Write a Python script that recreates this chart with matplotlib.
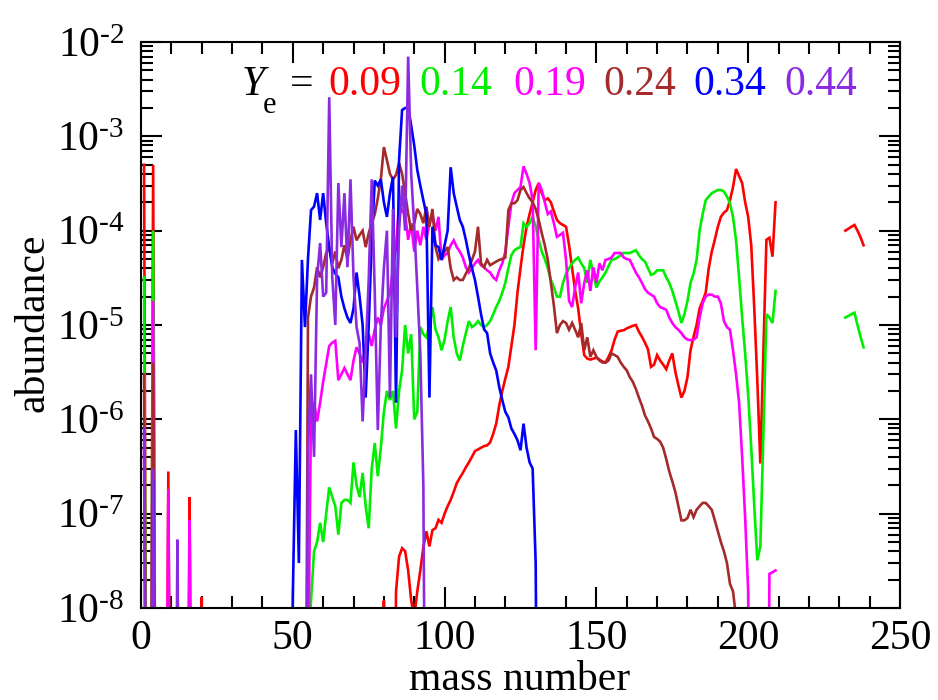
import numpy as np
import matplotlib
matplotlib.use("Agg")
import matplotlib.pyplot as plt
from matplotlib.ticker import MultipleLocator, FixedLocator, NullFormatter, FuncFormatter

plt.rcParams['font.family'] = ['Liberation Serif', 'DejaVu Serif']
plt.rcParams['mathtext.fontset'] = 'custom'
plt.rcParams['mathtext.rm'] = 'Liberation Serif'
plt.rcParams['mathtext.it'] = 'Liberation Serif:italic'
plt.rcParams['mathtext.bf'] = 'Liberation Serif:bold'

OFF = 1e-12  # value below the plotted range (drawn off-axis)

# ---------------- data: (first mass number, abundances for consecutive A) ----------------
ye_labels = ["0.09", "0.14", "0.19", "0.24", "0.34", "0.44"]
colors = ["#ff0000", "#00ee00", "#ff00ff", "#a52a2a", "#0000ff", "#8a2be2"]
y_decades = [-8, -7, -6, -5, -4, -3, -2]

red_segments = [
    (1, [5e-4, OFF, OFF, 5e-4, OFF]),
    (8, [OFF, 2.8e-7, OFF]),
    (15, [OFF, 1.5e-7, OFF]),
    (19, [OFF, 1.3e-8, OFF]),
    (79, [OFF, 1.2e-8, OFF, OFF, OFF, 1.5e-8, 3.5e-8, 4.3e-8, 4e-8, 2.5e-8,
          1.2e-8, 8e-9, 1.5e-8, 2.5e-8, 4.4e-8, 6.5e-8, 4.5e-8, 6.7e-8, 7e-8, 8.6e-8,
          8e-8, 1e-7, 1.2e-7, 1.4e-7, 1.7e-7, 2.1e-7, 2.4e-7, 2.7e-7, 3.1e-7, 3.5e-7,
          4e-7, 4.6e-7, 4.8e-7, 5e-7, 5.2e-7, 5.3e-7, 5.7e-7, 7e-7, 9e-7, 1.4e-6,
          2e-6, 2.7e-6, 3.6e-6, 6e-6, 1e-5, 2.2e-5, 4e-5, 7e-5, 1.1e-4, 1.5e-4,
          2e-4, 2.7e-4, 3.2e-4, 2.5e-4, 2.1e-4, 2.2e-4, 2e-4, 1.6e-4, 1.3e-4, 1.2e-4,
          1.15e-4, 1.1e-4, 7e-5, 4e-5, 2.3e-5, 1.5e-5, 8e-6, 4.8e-6, 4.4e-6, 4.3e-6,
          4.4e-6, 4.5e-6, 4.3e-6, 4.1e-6, 4e-6, 4.6e-6, 5.4e-6, 7e-6, 8.5e-6, 8.7e-6,
          8.8e-6, 9.2e-6, 9.5e-6, 9.8e-6, 1e-5, 8.5e-6, 7.5e-6, 6.5e-6, 5.5e-6, 3.6e-6,
          3.8e-6, 4.8e-6, 4.2e-6, 3.8e-6, 3.4e-6, 4.2e-6, 5e-6, 3.2e-6, 2.3e-6, 1.7e-6,
          2e-6, 2.8e-6, 5.4e-6, 7.5e-6, 1e-5, 1.5e-5, 1.8e-5, 2.2e-5, 4e-5, 6e-5,
          8e-5, 1.1e-4, 1.4e-4, 1.55e-4, 1.65e-4, 2.1e-4, 2.9e-4, 4.5e-4, 3.8e-4, 3.2e-4,
          2e-4, 1.4e-4, 7e-5, 1.5e-5, 2.6e-6, 3.4e-7, 5e-6, 8e-5, 8.4e-5, 5.3e-5,
          2e-4]),
    (232, [1.0e-4, 1.05e-4, 1.1e-4, 1.15e-4, 1.0e-4, 8.5e-5, 7e-5]),
]

green_segments = [
    (1, [3.2e-5, OFF, OFF, 1e-4, OFF]),
    (54, [OFF, 3e-9, 1.2e-8, 4e-8, 5e-8, 8e-8, 5e-8, 1e-7, 1.9e-7, 1.5e-7,
          1.2e-7, 6e-8, 1.3e-7, 1.4e-7, 1.4e-7, 1.3e-7, 3.5e-7, 2e-7, 1.5e-7, 2.7e-7,
          1.2e-7, 7e-8, 3e-7, 5.6e-7, 2.5e-7, 5e-7, 1.2e-6, 2e-6, 1.6e-6, 2e-6,
          8e-7, 2e-6, 3.3e-6, 1e-5, 5e-6, 8e-6, 1e-6, 1.2e-6, 9.5e-6, 8e-6,
          7.4e-6, 1e-5, 1.55e-5, 9e-6, 7.4e-6, 5.4e-6, 7e-6, 1.1e-5, 1.55e-5, 7.4e-6,
          5e-6, 4.2e-6, 6e-6, 8.2e-6, 1.1e-5, 9.5e-6, 1e-5, 1.1e-5, 1e-5, 9.5e-6,
          1e-5, 1.1e-5, 1.3e-5, 1.55e-5, 1.8e-5, 2.2e-5, 2.8e-5, 4e-5, 5.5e-5, 6.2e-5,
          6.5e-5, 6.7e-5, 1.2e-4, 1.1e-4, 1.2e-4, 1.4e-4, 1.1e-4, 8e-5, 6e-5, 5e-5,
          4e-5, 3e-5, 2.5e-5, 2e-5, 2e-5, 2.8e-5, 3.5e-5, 4e-5, 4.5e-5, 4.9e-5,
          5.2e-5, 4.5e-5, 4e-5, 2.8e-5, 4.9e-5, 3.5e-5, 2.5e-5, 2.9e-5, 3.2e-5, 3.6e-5,
          4.2e-5, 4.9e-5, 5e-5, 5.2e-5, 5.5e-5, 5.8e-5, 5.8e-5, 5.8e-5, 6e-5, 6.2e-5,
          5.5e-5, 5e-5, 4.7e-5, 4e-5, 3.4e-5, 3.5e-5, 3.8e-5, 3.8e-5, 3.8e-5, 3.2e-5,
          2.8e-5, 2.3e-5, 1.8e-5, 1.4e-5, 1.05e-5, 1.3e-5, 1.8e-5, 2.8e-5, 3.5e-5, 4.9e-5,
          1e-4, 1.5e-4, 2.1e-4, 2.3e-4, 2.5e-4, 2.6e-4, 2.7e-4, 2.7e-4, 2.6e-4, 2.3e-4,
          1.95e-4, 1.4e-4, 7.9e-5, 3.2e-5, 1.2e-5, 5e-6, 1.8e-6, 5e-7, 1.2e-7, 3.2e-8,
          4.5e-8, 7e-7, 1.3e-5, 1.2e-5, 1.05e-5, 2.3e-5]),
    (232, [1.2e-5, 1.25e-5, 1.3e-5, 1.35e-5, 1e-5, 7.5e-6, 5.8e-6]),
]

magenta_segments = [
    (1, [5e-7, OFF, OFF, 1.8e-5, OFF]),
    (8, [OFF, 1.8e-7, OFF]),
    (15, [OFF, 8.5e-8, OFF]),
    (54, [OFF, 1e-9, 1.3e-6, 1.5e-6, 9.5e-7, 1.5e-6, 2.5e-6, 3.9e-6, 6e-6, 6.5e-6,
          6.8e-6, 2.6e-6, 3e-6, 3.5e-6, 3e-6, 2.6e-6, 4.2e-6, 5.8e-6, 5e-6, 4e-6,
          6e-6, 8e-6, 6e-6, 9e-6, 1.2e-5, 1e-5, 1.5e-5, 1.8e-5, 2.2e-5, 4e-5,
          6.7e-5, 2e-4, 1.6e-4, 1.5e-4, 8e-5, 1.2e-4, 6e-5, 1e-4, 7e-5, 1.1e-4,
          8e-5, 1.2e-4, 1.5e-4, 1e-4, 1.4e-4, 4.9e-5, 5.5e-5, 5.8e-5, 7e-5, 7.9e-5,
          6.7e-5, 6e-5, 5.2e-5, 4.1e-5, 3.6e-5, 4e-5, 4.5e-5, 4.9e-5, 4.3e-5, 4.1e-5,
          3.8e-5, 3.6e-5, 3.2e-5, 3e-5, 3.8e-5, 4.5e-5, 6e-5, 1.1e-4, 1.95e-4, 2.5e-4,
          2.7e-4, 2.9e-4, 4.8e-4, 4e-4, 3.2e-4, 2.1e-4, 5.4e-6, 3.2e-4, 2.7e-4, 2e-4,
          1.5e-4, 1.6e-4, 1.2e-4, 8.6e-5, 9e-5, 9.5e-5, 4.9e-5, 1.8e-5, 1.55e-5, 2.5e-5,
          3.6e-5, 1.7e-5, 2.8e-5, 3.8e-5, 2.3e-5, 4.1e-5, 2.8e-5, 4.5e-5, 3.8e-5, 4.9e-5,
          5e-5, 5.2e-5, 5.8e-5, 5.8e-5, 5.8e-5, 5.2e-5, 5e-5, 4.9e-5, 4.2e-5, 3.6e-5,
          3.2e-5, 2.8e-5, 2.4e-5, 2.2e-5, 2.1e-5, 2e-5, 1.7e-5, 1.55e-5, 1.5e-5, 1.45e-5,
          1.2e-5, 1.05e-5, 9.5e-6, 8.9e-6, 8.2e-6, 7.4e-6, 7e-6, 6.9e-6, 7e-6, 7.4e-6,
          1.2e-5, 1.7e-5, 2e-5, 2.1e-5, 2.1e-5, 2e-5, 2e-5, 1.7e-5, 1.1e-5, 9.5e-6,
          8.9e-6, 5.4e-6, 3e-6, 1.5e-6, 4e-7, 9e-8, 1.5e-8, OFF, OFF, OFF,
          OFF, OFF, OFF, 2.3e-8, 2.4e-8, 2.5e-8]),
]

brown_segments = [
    (1, [3e-6, OFF, OFF, 4e-6, OFF]),
    (54, [OFF, 1.2e-5, 2e-5, 2.5e-5, 4.1e-5, 3.2e-5, 4.1e-5, 5.8e-5, 6.7e-5, 4.5e-5,
          6e-5, 4e-5, 4.9e-5, 7e-5, 5e-5, 8e-5, 1.1e-4, 7.9e-5, 9e-5, 1e-4,
          6.7e-5, 9.4e-5, 1.2e-4, 1.5e-4, 2.2e-4, 3.5e-4, 7.7e-4, 5.6e-4, 4e-4, 3.5e-4,
          3.9e-4, 5.2e-4, 4e-4, 2.5e-4, 1.5e-4, 1e-4, 1.2e-4, 1.7e-4, 1.5e-4, 1.2e-4,
          1.8e-4, 1.1e-4, 1.7e-4, 6.7e-5, 5e-5, 5.5e-5, 6e-5, 6.7e-5, 4e-5, 3e-5,
          3.2e-5, 3e-5, 3e-5, 3.5e-5, 4e-5, 4.9e-5, 6e-5, 1.1e-4, 4.5e-5, 4.1e-5,
          4.9e-5, 4.3e-5, 4.5e-5, 4.7e-5, 4.9e-5, 5e-5, 5.2e-5, 1.65e-4, 1.95e-4, 1.95e-4,
          2.1e-4, 2.7e-4, 2.9e-4, 2.5e-4, 2.2e-4, 2e-4, 1.7e-4, 1.3e-4, 9.4e-5, 7e-5,
          4.9e-5, 2.8e-5, 1.6e-5, 8.2e-6, 1e-5, 1.1e-5, 1.05e-5, 8.9e-6, 1.05e-5, 8.9e-6,
          7.4e-6, 1.05e-5, 5.4e-6, 7.4e-6, 4.6e-6, 5.4e-6, 4.6e-6, 4.2e-6, 4e-6, 4e-6,
          4.2e-6, 5e-6, 4.8e-6, 4.6e-6, 4e-6, 3.6e-6, 3.3e-6, 2.8e-6, 2.5e-6, 2.1e-6,
          1.7e-6, 1.4e-6, 1.1e-6, 9.5e-7, 8e-7, 6.5e-7, 6.2e-7, 5.8e-7, 5e-7, 3.8e-7,
          2.8e-7, 2.2e-7, 1.7e-7, 1.2e-7, 8.5e-8, 8.5e-8, 9e-8, 1.1e-7, 9.2e-8, 1.1e-7,
          1.2e-7, 1.3e-7, 1.3e-7, 1.2e-7, 1.1e-7, 8.5e-8, 6.5e-8, 5e-8, 4e-8, 3e-8,
          1.8e-8, 1.5e-8, 8e-9, OFF]),
]

blue_segments = [
    (3, [OFF, 2.3e-7, OFF]),
    (49, [OFF, 1.3e-8, 7.7e-7, 3e-8, 4.9e-5, 9.5e-6, 5e-5, 1.65e-4, 1.8e-4, 2.5e-4,
          1.3e-4, 2.5e-4, 1.2e-4, 6.7e-5, 4.1e-5, 3.5e-5, 3.2e-5, 2e-5, 1.5e-5, 1.2e-5,
          1.05e-5, 1.5e-5, 3.6e-5, 2e-5, 1e-5, 1.7e-6, 1e-5, 8e-5, 3.4e-4, 3e-4,
          3.5e-4, 2e-4, 1.4e-4, 2.5e-4, 3.7e-4, 1.5e-6, 5.6e-4, 1.9e-3, 2e-3, 2e-3,
          1.3e-3, 8e-4, 4.4e-4, 3e-4, 2.1e-4, 1.5e-4, 1.7e-6, 1.1e-4, 7e-5, 6.7e-5,
          4.9e-5, 7e-5, 1e-4, 4.7e-4, 2.5e-4, 1.8e-4, 1.3e-4, 1.1e-4, 8e-5, 5.5e-5,
          4e-5, 3e-5, 2e-5, 1.3e-5, 9e-6, 8.2e-6, 5e-6, 4e-6, 3.3e-6, 2.2e-6,
          1.6e-6, 1.2e-6, 1.05e-6, 8e-7, 7e-7, 6e-7, 4.7e-7, 9e-7, 5e-7, 3.5e-7,
          3e-7, 3e-8, OFF]),
]

purple_segments = [
    (1, [8e-7, OFF, OFF, 3e-7, OFF]),
    (11, [OFF, 5.3e-8, OFF]),
    (54, [OFF, 5e-7, 3e-6, 4e-7, 3.2e-5, 7.4e-5, 2e-5, 2.2e-5, 2.6e-3, 3.2e-5,
          1e-5, 3.2e-4, 6.7e-5, 2.5e-4, 4.1e-5, 3.5e-4, 3.2e-5, 9.5e-6, 6.4e-6, 9.5e-7,
          5e-6, 3e-5, 3.5e-4, 2.2e-5, 7.7e-7, 1e-5, 4e-5, 1e-4, 1.7e-6, 1.7e-4,
          7.4e-6, 1e-4, 3e-4, 1e-4, 7e-3, 4e-4, 1.1e-4, 2.5e-5, 5e-6, 2e-7,
          OFF]),
]

all_segments = [red_segments, green_segments, magenta_segments,
                brown_segments, blue_segments, purple_segments]


def build(segments):
    xs, ys = [], []
    for start, vals in segments:
        if xs:
            xs.append(np.nan)
            ys.append(np.nan)
        xs.extend(range(start, start + len(vals)))
        ys.extend(vals)
    return np.array(xs, float), np.array(ys, float)


W, H = 938, 700
fig = plt.figure(figsize=(W / 100, H / 100), dpi=100)
L, R, T, B = 141, 900, 42, 608
ax = fig.add_axes([L / W, 1 - B / H, (R - L) / W, (B - T) / H])

for segs, c in zip(all_segments, colors):
    x, y = build(segs)
    ax.plot(x, y, color=c, lw=1.9, solid_joinstyle='miter')

ax.set_yscale('log')
ax.set_xlim(0, 250)
ax.set_ylim(1e-8, 1e-2)
ax.xaxis.set_major_locator(MultipleLocator(50))
ax.xaxis.set_minor_locator(MultipleLocator(10))
major_y = [10.0 ** e for e in y_decades]
minor_y = [m * 10.0 ** e for e in y_decades[:-1] for m in range(2, 10)]
ax.yaxis.set_major_locator(FixedLocator(major_y))
ax.yaxis.set_minor_locator(FixedLocator(minor_y))


def log_label(v, pos):
    e = int(round(np.log10(v)))
    sign = "\u2010" if e < 0 else ""
    return r"$10^{%s%d}$" % (sign, abs(e))


ax.yaxis.set_major_formatter(FuncFormatter(log_label))
ax.yaxis.set_minor_formatter(NullFormatter())

ax.tick_params(which='both', direction='in', top=True, right=True, width=1.5, colors='black')
ax.tick_params(which='major', length=15, labelsize=30)
ax.tick_params(which='minor', length=8.5)
ax.tick_params(axis='x', which='major', pad=8)
ax.tick_params(axis='y', which='major', pad=12)
for s in ax.spines.values():
    s.set_linewidth(1.5)


def fx(px):
    return px / W


def fy(py):
    return 1 - py / H


fig.text(fx(520), fy(690), "mass number", fontsize=30, ha='center', va='baseline')
fig.text(fx(33), fy(323), "abundance", fontsize=30, ha='center', va='center', rotation=90)

# Ye legend
fig.text(fx(242), fy(95), "Y", fontsize=30, style='italic', ha='left', va='baseline')
fig.text(fx(263), fy(113), "e", fontsize=22, ha='left', va='baseline')
fig.text(fx(290), fy(95), "=", fontsize=30, ha='left', va='baseline')
label_x = [328, 419, 513, 603, 693, 784]
for lx, lab, c in zip(label_x, ye_labels, colors):
    fig.text(fx(lx), fy(95), lab, fontsize=30, color=c, ha='left', va='baseline')

fig.savefig("out.png", dpi=100)
